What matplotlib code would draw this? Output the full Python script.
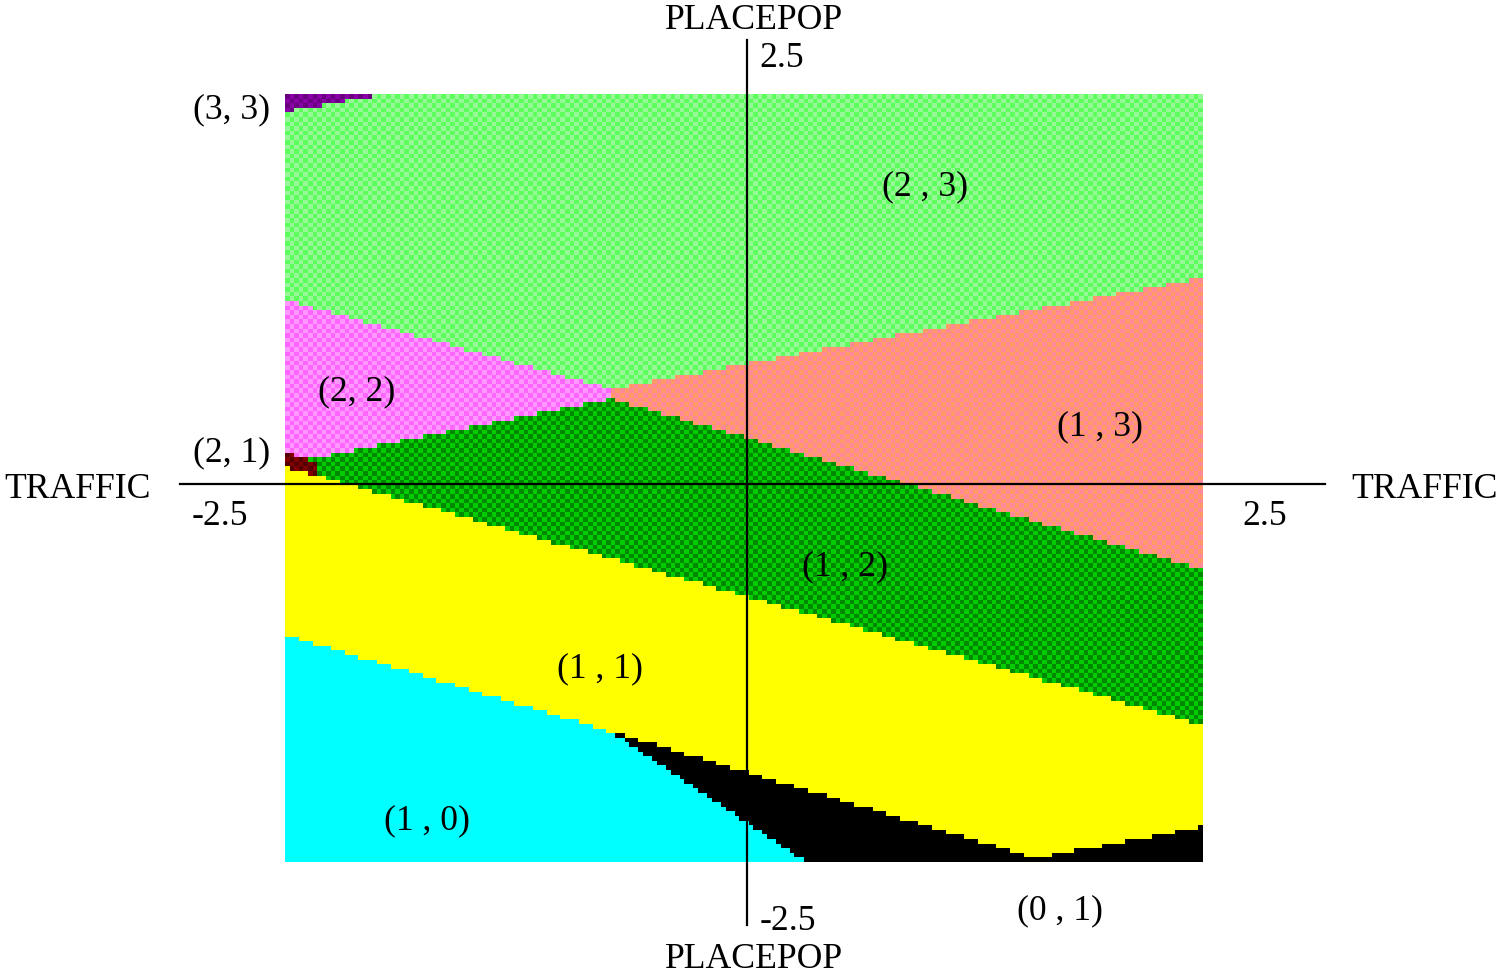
import numpy as np
import matplotlib
matplotlib.use("Agg")
import matplotlib.pyplot as plt

# region map: TRAFFIC (x) vs PLACEPOP (y), class pairs per region
x_range = [-2.516, 2.484]
y_range = [-2.461, 2.539]
n_cols, n_rows = 200, 167

# boundary polylines (knots in data units)
lightgreen_bottom_x = [-2.516, -0.735, 2.484]
lightgreen_bottom_y = [1.198, 0.618, 1.341]
darkgreen_top_x = [-2.516, -0.735, 2.484]
darkgreen_top_y = [0.130, 0.553, -0.560]
yellow_top_x = [-2.516, 2.484]
yellow_top_y = [0.111, -1.569]
yellow_bottom_x = [-2.516, -0.735, 1.569, 2.484]
yellow_bottom_y = [-0.983, -1.615, -2.435, -2.233]
cyan_black_x = [-0.735, 0.316]
cyan_black_y = [-1.615, -2.461]
purple_x = [-2.516, -1.95]
purple_y = [2.422, 2.545]
darkred_x = [-2.516, -2.347]
darkred_y = [0.208, 0.137]
pink_salmon_split = -0.735

# colours: (a, b) pairs for the dithered checker pattern
colors = {
    "(3, 3)": ("#6a0080", "#8a00a8"),
    "(2 , 3)": ("#5cff5c", "#98f898"),
    "(2, 2)": ("#ff66ff", "#ff99ff"),
    "(1 , 3)": ("#ff9966", "#ff8899"),
    "(1 , 2)": ("#00cc00", "#008800"),
    "(2, 1)": ("#550000", "#800000"),
    "(1 , 1)": ("#ffff00", "#ffff00"),
    "(1 , 0)": ("#00ffff", "#00ffff"),
    "(0 , 1)": ("#000000", "#000000"),
}

dx = (x_range[1] - x_range[0]) / n_cols
dy = (y_range[1] - y_range[0]) / n_rows
xc = x_range[0] + dx * (np.arange(n_cols) + 0.5)
yc = y_range[1] - dy * (np.arange(n_rows) + 0.5)
X, Y = np.meshgrid(xc, yc)

lg = np.interp(X, lightgreen_bottom_x, lightgreen_bottom_y)
dg = np.interp(X, darkgreen_top_x, darkgreen_top_y)
yt = np.interp(X, yellow_top_x, yellow_top_y)
yb = np.interp(X, yellow_bottom_x, yellow_bottom_y)
cb = np.interp(X, cyan_black_x, cyan_black_y)
pu = np.interp(X, purple_x, purple_y)
dr = np.interp(X, darkred_x, darkred_y)

label = np.empty(X.shape, dtype=object)
label[:] = "(0 , 1)"
label[(Y <= yb) & ((X < pink_salmon_split) | (Y < cb))] = "(1 , 0)"
label[Y > yb] = "(1 , 1)"
label[Y > yt] = "(1 , 2)"
label[(Y > dg) & (X < pink_salmon_split)] = "(2, 2)"
label[(Y > dg) & (X >= pink_salmon_split)] = "(1 , 3)"
label[(X < darkred_x[1]) & (Y > yt) & (Y < dr)] = "(2, 1)"
label[Y > lg] = "(2 , 3)"
label[Y > pu] = "(3, 3)"

checker = (np.add.outer(np.arange(n_rows), np.arange(n_cols)) % 2)
img = np.zeros((n_rows, n_cols, 3))
for name, (ca, cb_) in colors.items():
    m = label == name
    a = np.array(matplotlib.colors.to_rgb(ca))
    b = np.array(matplotlib.colors.to_rgb(cb_))
    img[m & (checker == 0)] = a
    img[m & (checker == 1)] = b

fig = plt.figure(figsize=(14.97, 9.75), dpi=100)
ax = fig.add_axes([0, 0, 1, 1])
ax.imshow(img, extent=[x_range[0], x_range[1], y_range[0], y_range[1]],
          interpolation="nearest", origin="upper", aspect="auto")
ax.set_xlim(-4.069, 4.085)
ax.set_ylim(-3.197, 3.151)
ax.axis("off")

# axes cross
ax.plot([-3.088, 3.148], [0, 0], color="black", lw=1.6)
ax.plot([0, 0], [-2.871, 2.891], color="black", lw=1.6)

font = dict(family="Liberation Serif", fontsize=25.7, ha="center", va="center")
ax.text(0.038, 3.020, "PLACEPOP", **font)
ax.text(0.038, -3.093, "PLACEPOP", **font)
ax.text(0.191, 2.773, "2.5", **font)
ax.text(0.223, -2.846, "-2.5", **font)
ax.text(-3.644, -0.035, "TRAFFIC", **font)
ax.text(3.693, -0.035, "TRAFFIC", **font)
ax.text(-2.870, -0.212, "-2.5", **font)
ax.text(2.821, -0.212, "2.5", **font)

region_labels = ["(3, 3)", "(2 , 3)", "(2, 2)", "(2, 1)", "(1 , 3)",
                 "(1 , 2)", "(1 , 1)", "(1 , 0)", "(0 , 1)"]
label_x = [-2.810, 0.969, -2.124, -2.810, 1.923, 0.534, -0.801, -1.743, 1.705]
label_y = [2.437, 1.936, 0.601, 0.204, 0.374, -0.538, -1.202, -2.191, -2.777]
for t, lx, ly in zip(region_labels, label_x, label_y):
    ax.text(lx, ly, t, **font)

fig.savefig("out.png", dpi=100)
